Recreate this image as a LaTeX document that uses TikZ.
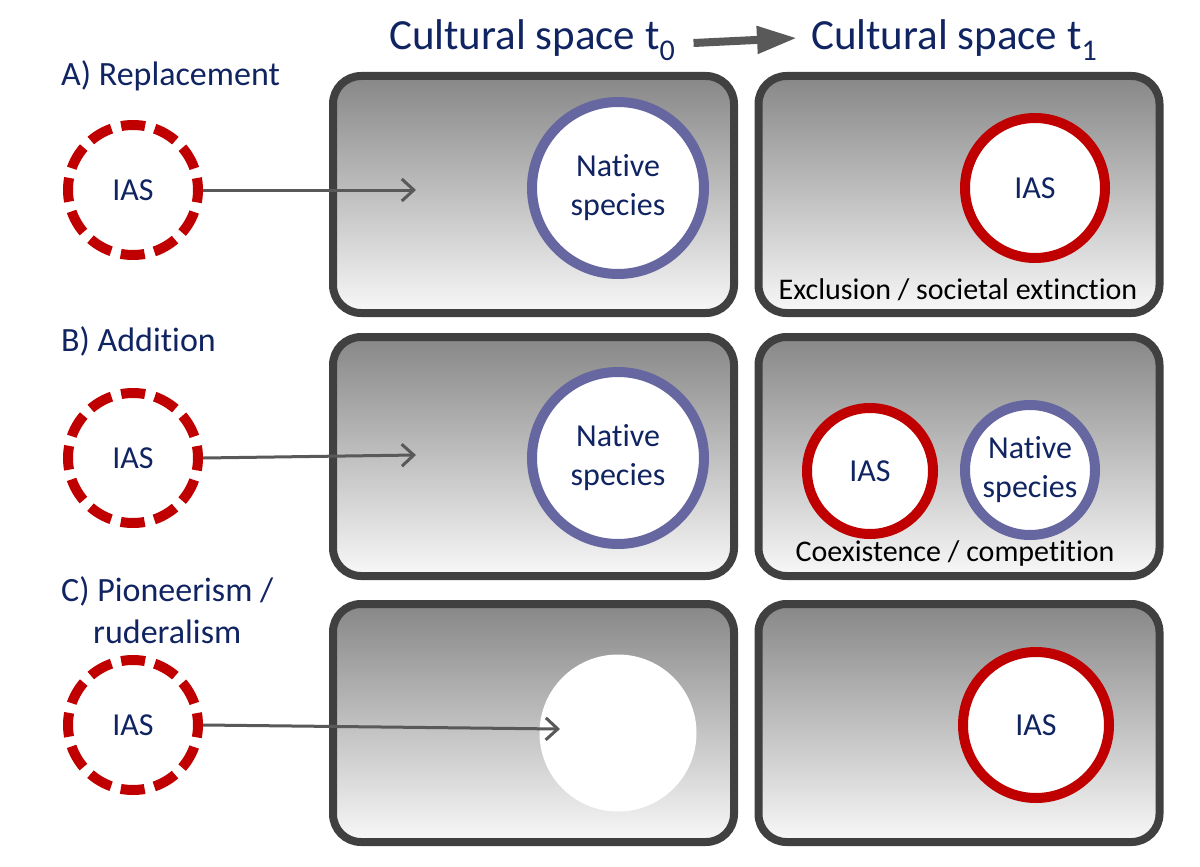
\documentclass[tikz,border=0pt]{standalone}
\usepackage{fontspec}
\setmainfont{Carlito}[Ligatures=NoCommon]
\usetikzlibrary{arrows.meta}
\definecolor{navy}{RGB}{16,36,98}
\definecolor{iasred}{RGB}{192,0,0}
\definecolor{natblue}{RGB}{102,102,160}
\definecolor{boxline}{RGB}{64,64,64}
\definecolor{arrowgray}{RGB}{89,89,89}
\definecolor{gtop}{RGB}{135,135,135}
\definecolor{gbot}{RGB}{248,248,248}
\tikzset{
  spacebox/.style={draw=boxline, line width=8pt, rounded corners=28pt, top color=gtop, bottom color=gbot, minimum width=401pt, inner sep=0pt},
  dashias/.style={circle, draw=iasred, line width=10pt, dash pattern=on 24pt off 10pt, dash phase=12pt, fill=white, minimum size=130pt, text=navy, font=\fontsize{32}{38}\selectfont, inner sep=0pt},
  iascirc/.style={circle, draw=iasred, line width=10pt, fill=white, text=navy, font=\fontsize{32}{38}\selectfont, inner sep=0pt, align=center},
  natcirc/.style={circle, draw=natblue, line width=10pt, fill=white, text=navy, font=\fontsize{32}{39}\selectfont, inner sep=0pt, align=center},
  rowlabel/.style={text=navy, font=\fontsize{34}{42}\selectfont, align=center, inner sep=0pt},
  headlabel/.style={anchor=west, text=navy, font=\fontsize{43}{48}\selectfont, inner sep=0pt},
  outcome/.style={text=black, font=\fontsize{30}{34}\selectfont, inner sep=0pt},
  entry/.style={draw=arrowgray, line width=3pt, -{Straight Barb[length=12pt,width=22pt]}},
}
\begin{document}
\begin{tikzpicture}[x=1pt,y=-1pt]
\useasboundingbox (0,0) rectangle (1200,867);
% headers
\node[headlabel] (h0) at (389,40) {Cultural space t\textsubscript{0}};
\node[headlabel] (h1) at (811,40) {Cultural space t\textsubscript{1}};
\draw[draw=arrowgray, line width=8pt, -{Triangle[length=40pt,width=26pt]}] (h0.east) ++(18pt,-3pt) coordinate (ha) -- ([xshift=-14pt,yshift=2pt]h1.west) coordinate (hb);
% row labels
\node[rowlabel, anchor=north west] (la) at (61,60) {A) Replacement};
\node[rowlabel, anchor=north west] (lb) at (61,326) {B) Addition};
\node[rowlabel, anchor=north west] (lc) at (61,576) {C) Pioneerism /\\ruderalism};
% boxes
\node[spacebox, minimum height=237pt] (a0) at (533.5,194.5) {};
\node[spacebox, minimum height=237pt] (a1) at (959,194.5) {};
\node[spacebox, minimum height=239pt] (b0) at (533.5,456.5) {};
\node[spacebox, minimum height=239pt] (b1) at (959,456.5) {};
\node[spacebox, minimum height=238pt] (c0) at (533.5,723) {};
\node[spacebox, minimum height=238pt] (c1) at (959,723) {};
% row A
\node[dashias] (ia) at (133,190) {IAS};
\node[natcirc, minimum size=172pt] (na) at (618,188) {Native\\species};
\node[iascirc, minimum size=140pt] (ra) at (1035,188) {IAS};
\node[outcome] (oa) at (958,290) {Exclusion / societal extinction};
\draw[entry] (ia.east) -- (416,190);
% row B
\node[dashias] (ib) at (133,458) {IAS};
\node[natcirc, minimum size=172pt] (nb) at (618,458) {Native\\species};
\node[iascirc, minimum size=126pt] (rb) at (870,471) {IAS};
\node[natcirc, minimum size=130pt] (rb2) at (1030,470) {Native\\species};
\node[outcome] (ob) at (955,553) {Coexistence / competition};
\draw[entry] (ib.east) -- (416,455);
% row C
\node[dashias] (ic) at (133,725) {IAS};
\node[circle, fill=white, minimum size=157pt, inner sep=0pt] (ec) at (618,733) {};
\node[iascirc, minimum size=146pt] (rc) at (1036,725) {IAS};
\draw[entry] (ic.east) -- (560,729);
\end{tikzpicture}
\end{document}
